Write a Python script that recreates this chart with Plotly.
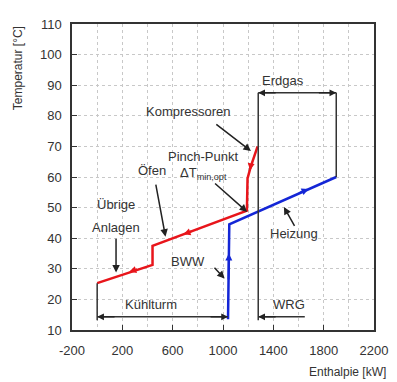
import plotly.graph_objects as go

# Composite curves (Enthalpie kW, Temperatur °C)
hot_H = [0, 440, 440, 1190, 1195, 1220, 1275]
hot_T = [25.3, 31.3, 37.5, 49, 59.5, 63.3, 70]
cold_H = [1040, 1050, 1900]
cold_T = [13.5, 44.5, 60]

# direction arrows on curves: (x, y, x_from, y_from)
hot_arrows = [(255, 29.0, 330, 30.0), (686, 41.3, 760, 42.4), (1215, 62.2, 1224, 64.5)]
cold_arrows = [(1047, 35.0, 1044, 26.0), (1680, 56.1, 1600, 54.7)]

# bracket lines
erdgas_y = 87.5
bottom_y = 14.3
x_kuehl0 = 0
x_bww = 1040
x_erdgas0 = 1280
x_erdgas1 = 1900
x_wrg1 = 1650

x_ticks = [-200, 200, 600, 1000, 1400, 1800, 2200]
x_ticktext = ["-200", "200", "600", "1000", "1400", "1800", "2200"]
y_ticks = [10, 20, 30, 40, 50, 60, 70, 80, 90, 100, 110]

FONT = "Arial, Liberation Sans, sans-serif"
TXT = "#333333"

fig = go.Figure()
fig.add_trace(go.Scatter(x=hot_H, y=hot_T, mode="lines",
                         line=dict(color="#e8151b", width=2.5), hoverinfo="skip"))
fig.add_trace(go.Scatter(x=cold_H, y=cold_T, mode="lines",
                         line=dict(color="#1426d6", width=2.5), hoverinfo="skip"))
# black bracket lines
fig.add_trace(go.Scatter(x=[x_erdgas0, x_erdgas0], y=[erdgas_y, 13.2], mode="lines",
                         line=dict(color="#333", width=1.5), hoverinfo="skip"))
fig.add_trace(go.Scatter(x=[x_erdgas1, x_erdgas1], y=[erdgas_y, cold_T[-1]], mode="lines",
                         line=dict(color="#333", width=1.5), hoverinfo="skip"))
fig.add_trace(go.Scatter(x=[x_kuehl0, x_kuehl0], y=[hot_T[0], 13.2], mode="lines",
                         line=dict(color="#333", width=1.5), hoverinfo="skip"))
fig.add_trace(go.Scatter(x=[x_kuehl0, x_bww], y=[bottom_y, bottom_y], mode="lines",
                         line=dict(color="#333", width=1.5), hoverinfo="skip"))
fig.add_trace(go.Scatter(x=[x_erdgas0, x_wrg1], y=[bottom_y, bottom_y], mode="lines",
                         line=dict(color="#333", width=1.5), hoverinfo="skip"))
fig.add_trace(go.Scatter(x=[x_erdgas0, x_erdgas1], y=[erdgas_y, erdgas_y], mode="lines",
                         line=dict(color="#333", width=1.5), hoverinfo="skip"))

ann = []
def arrow(x, y, ax, ay, color="#222", w=1.5, size=1.0):
    ann.append(dict(x=x, y=y, ax=ax, ay=ay, xref="x", yref="y", axref="x", ayref="y",
                    text="", showarrow=True, arrowhead=2, arrowsize=size,
                    arrowwidth=w, arrowcolor=color))

for (x, y, ax, ay) in hot_arrows:
    arrow(x, y, ax, ay, color="#e8151b", w=2, size=0.7)
for (x, y, ax, ay) in cold_arrows:
    arrow(x, y, ax, ay, color="#1426d6", w=2, size=0.7)

# bracket arrowheads
arrow(x_erdgas0, erdgas_y, x_erdgas0 + 150, erdgas_y, size=0.9)
arrow(x_erdgas1, erdgas_y, x_erdgas1 - 150, erdgas_y, size=0.9)
arrow(x_kuehl0, bottom_y, x_kuehl0 + 150, bottom_y, size=0.9)
arrow(x_bww, bottom_y, x_bww - 150, bottom_y, size=0.9)
arrow(x_erdgas0, bottom_y, x_erdgas0 + 150, bottom_y, size=0.9)

# label pointer arrows
arrow(1222, 68.5, 935, 77.6)     # Kompressoren
arrow(1192, 48.6, 925, 58.3)     # Pinch
arrow(543, 40.5, 464, 58.0)      # Öfen
arrow(150, 28.8, 150, 40.3)      # Übrige Anlagen
arrow(1013, 26.8, 921, 30.8)     # BWW
arrow(1484, 50.2, 1575, 43.5)    # Heizung

def label(x, y, t, size=13):
    ann.append(dict(x=x, y=y, xref="x", yref="y", text=t, showarrow=False,
                    font=dict(family=FONT, size=size, color=TXT)))

label(1480, 91.6, "Erdgas")
label(725, 81.3, "Kompressoren")
label(843, 66.6, "Pinch-Punkt")
label(843, 61.3, "ΔT<sub>min,opt</sub>")
label(435, 62.2, "Öfen")
label(150, 51.0, "Übrige")
label(150, 43.6, "Anlagen")
label(725, 32.4, "BWW")
label(1562, 41.4, "Heizung")
label(425, 18.3, "Kühlturm")
label(1523, 18.3, "WRG")

ann.append(dict(x=-0.176, y=0.855, xref="paper", yref="paper", text="Temperatur [°C]",
                textangle=-90, showarrow=False, xanchor="center", yanchor="middle",
                font=dict(family=FONT, size=12, color=TXT)))
ann.append(dict(x=1.047, y=-0.137, xref="paper", yref="paper", text="Enthalpie [kW]",
                showarrow=False, xanchor="right", yanchor="middle",
                font=dict(family=FONT, size=12, color=TXT)))

grid = dict(gridcolor="#c8c8c8", griddash="dot", gridwidth=1)

fig.update_layout(
    width=389, height=374,
    margin=dict(l=64, r=19, t=9, b=52),
    paper_bgcolor="white", plot_bgcolor="white",
    showlegend=False,
    annotations=ann,
    font=dict(family=FONT, size=13, color=TXT),
    xaxis=dict(range=[-200, 2200], tickvals=x_ticks, ticktext=x_ticktext,
               ticks="inside", ticklen=5,
               tickcolor="#333", showline=True, mirror=True, linecolor="#333",
               linewidth=1.5, zeroline=False, ticklabelstandoff=8,
               minor=dict(dtick=200, tick0=-200, showgrid=True, gridcolor="#c8c8c8",
                          griddash="dot", ticks=""),
               tickfont=dict(family=FONT, size=13, color=TXT), **grid),
    yaxis=dict(range=[10, 110], tickvals=y_ticks, ticks="inside", ticklen=5,
               tickcolor="#333", showline=True, mirror=True, linecolor="#333",
               linewidth=1.5, zeroline=False, ticklabelstandoff=6,
               tickfont=dict(family=FONT, size=13, color=TXT), **grid),
)

fig.write_html("out.html")
